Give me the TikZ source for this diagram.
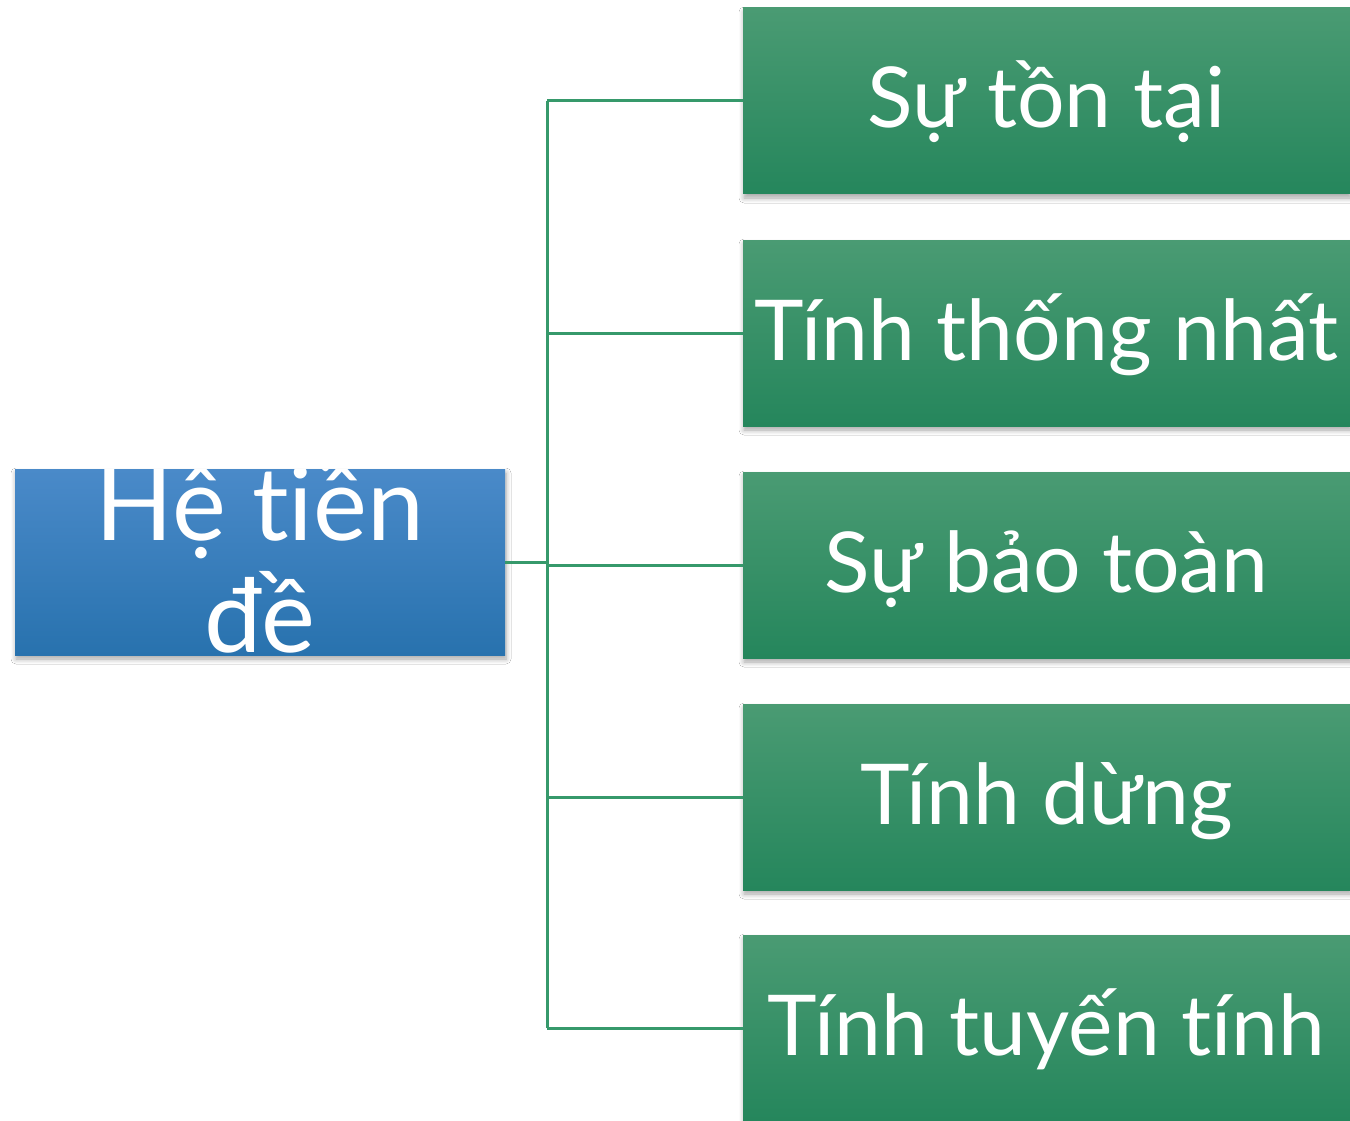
\documentclass[tikz,border=0pt]{standalone}
\usepackage{fontspec}
\setmainfont{Lato}[Ligatures=NoCommon]
\usetikzlibrary{shadows.blur}

\definecolor{rootTop}{HTML}{4A8AC9}
\definecolor{rootBot}{HTML}{2872AE}
\definecolor{leafTop}{HTML}{4A9B73}
\definecolor{leafBot}{HTML}{25865C}
\definecolor{linkGreen}{HTML}{36996B}

\tikzset{
    boxshadow/.style={blur shadow={shadow xshift=1pt, shadow yshift=-4pt, shadow blur radius=5pt,
        shadow blur steps=6, shadow opacity=35}},
    leafbox/.style={rectangle, inner sep=0pt, minimum width=607pt, minimum height=186pt,
        top color=leafTop, bottom color=leafBot, text=white, boxshadow,
        text height=80pt, text depth=26pt, font=\fontsize{84}{100}\selectfont},
    rootbox/.style={rectangle, inner sep=0pt, minimum width=490pt, minimum height=186pt,
        top color=rootTop, bottom color=rootBot, boxshadow},
    link/.style={draw=linkGreen, line width=3pt}
}

\begin{document}
\begin{tikzpicture}[x=1pt, y=-1pt]
    \useasboundingbox[fill=white] (0,0) rectangle (1350,1121);

    % root box, its text runs over the top edge and is cut off
    \node[rootbox, path picture={
        \node[text=white, font=\fontsize{102}{112}\selectfont, anchor=base] (rootline1)
            at ([yshift=22pt]path picture bounding box.center) {Hệ tiền};
        \node[text=white, font=\fontsize{102}{112}\selectfont, anchor=base] (rootline2)
            at ([yshift=-90pt]path picture bounding box.center) {đề};
    }] (root) at (260,562) {};

    % the five properties
    \node[leafbox] (exist) at (1046.5,101) {Sự tồn tại};
    \node[leafbox] (unity) at (1046.5,333) {Tính thống nhất};
    \node[leafbox] (conserve) at (1046.5,565) {Sự bảo toàn};
    \node[leafbox] (stop) at (1046.5,797) {Tính dừng};
    \node[leafbox] (linear) at (1046.5,1028) {Tính tuyến tính};

    % bus
    \coordinate (bus) at (547,562);
    \draw[link] (root.east) -- (bus);
    \draw[link] (bus |- exist.west) -- (bus |- linear.west);
    \foreach \leaf in {exist,unity,conserve,stop,linear} {
        \draw[link] (bus |- \leaf.west) -- (\leaf.west);
    }
\end{tikzpicture}
\end{document}
